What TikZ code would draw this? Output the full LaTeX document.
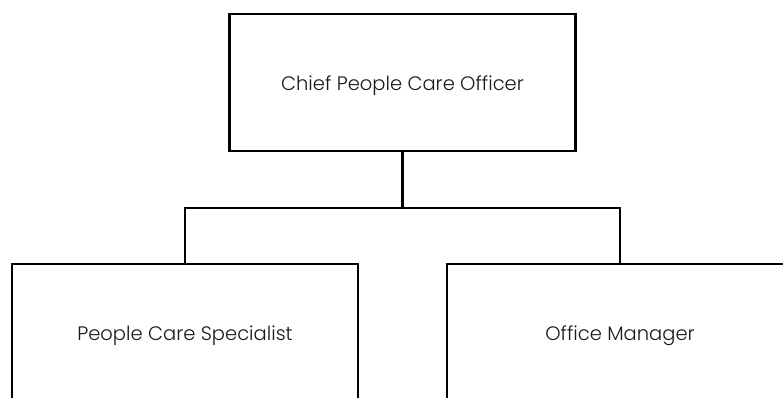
\documentclass[tikz,border=0pt]{standalone}
\usepackage{fontspec}
\setmainfont{Poppins}[UprightFont=* Light]
% lower the label within its box without changing the box size
\newcommand\lowered[1]{\raisebox{-3pt}[\height][\depth]{#1}}
\begin{document}
\begin{tikzpicture}[x=1pt,y=-1pt,
  role/.style={draw=black,line width=2.5pt,minimum width=346pt,minimum height=137pt,
    inner sep=0pt,font=\fontsize{19.5}{22}\selectfont,text=black!90},
  link/.style={draw=black,line width=2.5pt}]
\useasboundingbox (0,0) rectangle (783,397);
\clip (0,0) rectangle (783,397);
\node[role] (chief) at (402.5,82.5) {\lowered{Chief People Care Officer}};
\node[role] (spec) at (185,332.5) {\lowered{People Care Specialist}};
\node[role] (office) at (620,332.5) {\lowered{Office Manager}};
\coordinate (bus) at (402.5,208);
\draw[link] (chief.south) -- (bus);
\draw[link] (spec.north) |- (bus) -| (office.north);
\end{tikzpicture}
\end{document}
